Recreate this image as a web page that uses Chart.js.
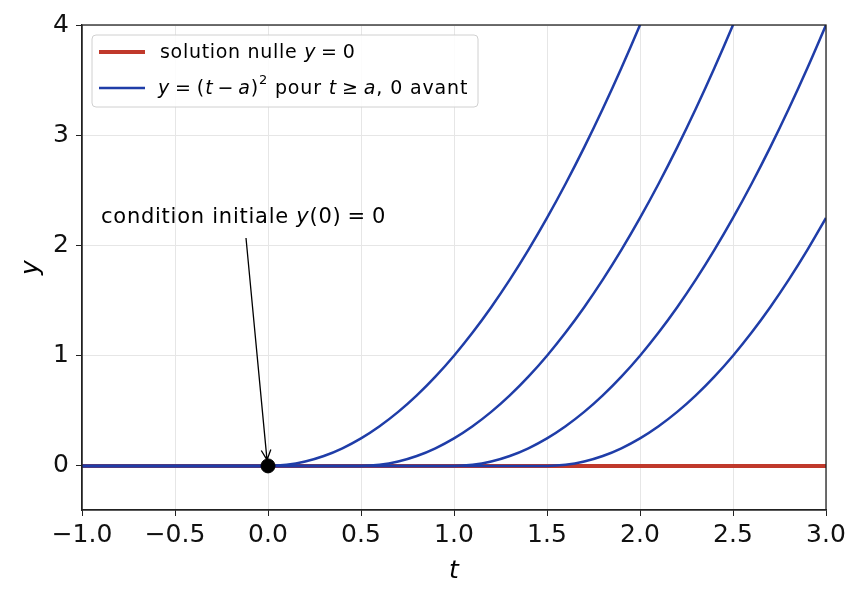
<!DOCTYPE html>
<html lang="fr">
<head>
    <meta charset="utf-8">
    <title>Solutions y = (t - a)^2</title>
    <script src="https://cdn.jsdelivr.net/npm/chart.js@4.4.0/dist/chart.umd.min.js"></script>
    <style>
        body { margin: 0; background: #fff; }
        #wrap { width: 862px; height: 602px; }
    </style>
</head>
<body>
<div id="wrap"><canvas id="courbes" width="862" height="602"></canvas></div>
<script>
    // abscisses communes, pas de 0.1
    const tValues = [-1.0, -0.9, -0.8, -0.7, -0.6, -0.5, -0.4, -0.3, -0.2, -0.1, 0.0,
        0.1, 0.2, 0.3, 0.4, 0.5, 0.6, 0.7, 0.8, 0.9, 1.0,
        1.1, 1.2, 1.3, 1.4, 1.5, 1.6, 1.7, 1.8, 1.9, 2.0,
        2.1, 2.2, 2.3, 2.4, 2.5, 2.6, 2.7, 2.8, 2.9, 3.0];

    // a = 0
    const yA0 = [0, 0, 0, 0, 0, 0, 0, 0, 0, 0, 0,
        0.01, 0.04, 0.09, 0.16, 0.25, 0.36, 0.49, 0.64, 0.81, 1.00,
        1.21, 1.44, 1.69, 1.96, 2.25, 2.56, 2.89, 3.24, 3.61, 4.00,
        4.41, 4.84, 5.29, 5.76, 6.25, 6.76, 7.29, 7.84, 8.41, 9.00];
    // a = 0.5
    const yA05 = [0, 0, 0, 0, 0, 0, 0, 0, 0, 0, 0,
        0, 0, 0, 0, 0, 0.01, 0.04, 0.09, 0.16, 0.25,
        0.36, 0.49, 0.64, 0.81, 1.00, 1.21, 1.44, 1.69, 1.96, 2.25,
        2.56, 2.89, 3.24, 3.61, 4.00, 4.41, 4.84, 5.29, 5.76, 6.25];
    // a = 1
    const yA1 = [0, 0, 0, 0, 0, 0, 0, 0, 0, 0, 0,
        0, 0, 0, 0, 0, 0, 0, 0, 0, 0,
        0.01, 0.04, 0.09, 0.16, 0.25, 0.36, 0.49, 0.64, 0.81, 1.00,
        1.21, 1.44, 1.69, 1.96, 2.25, 2.56, 2.89, 3.24, 3.61, 4.00];
    // a = 1.5
    const yA15 = [0, 0, 0, 0, 0, 0, 0, 0, 0, 0, 0,
        0, 0, 0, 0, 0, 0, 0, 0, 0, 0,
        0, 0, 0, 0, 0, 0.01, 0.04, 0.09, 0.16, 0.25,
        0.36, 0.49, 0.64, 0.81, 1.00, 1.21, 1.44, 1.69, 1.96, 2.25];

    const nullT = [-1.0, 3.0];
    const nullY = [0, 0];
    const initT = [0.0];
    const initY = [0];

    const xTicks = [-1.0, -0.5, 0.0, 0.5, 1.0, 1.5, 2.0, 2.5, 3.0];
    const yTicks = [0, 1, 2, 3, 4];

    const rouge = '#c0392b';
    const bleu = '#1f3da8';
    const police = '"DejaVu Sans", sans-serif';

    const toPoints = (xs, ys) => xs.map((x, i) => ({ x: x, y: ys[i] }));

    const courbes = [yA0, yA05, yA1, yA15].map(ys => ({
        data: toPoints(tValues, ys),
        borderColor: bleu,
        borderWidth: 2.5,
        pointRadius: 0,
        cubicInterpolationMode: 'monotone',
        order: 2
    }));

    // morceaux de texte, italique pour les maths
    function drawMixed(ctx, parts, x, y, size) {
        let cx = x;
        parts.forEach(p => {
            ctx.font = (p.it ? 'italic ' : '') + size + 'px ' + police;
            let dy = 0;
            if (p.sup) {
                ctx.font = Math.round(size * 0.7) + 'px ' + police;
                dy = -size * 0.42;
            }
            ctx.fillText(p.t, cx, y + dy);
            cx += ctx.measureText(p.t).width + (p.gap || 0);
        });
    }

    const decor = {
        id: 'decor',
        afterDraw(chart) {
            const ctx = chart.ctx;
            const a = chart.chartArea;
            const xs = chart.scales.x, ys = chart.scales.y;
            ctx.save();

            // cadre
            ctx.strokeStyle = '#222';
            ctx.lineWidth = 1.3;
            ctx.strokeRect(a.left, a.top, a.right - a.left, a.bottom - a.top);

            // annotation + fleche
            const px = xs.getPixelForValue(0), py = ys.getPixelForValue(0);
            ctx.fillStyle = '#000';
            ctx.textBaseline = 'alphabetic';
            ctx.letterSpacing = '0.75px';
            drawMixed(ctx, [
                { t: 'condition initiale ' }, { t: 'y', it: true }, { t: '(0)', gap: 6 },
                { t: '=', gap: 6 }, { t: '0' }
            ], 101, 223, 21);
            const sx = 246, sy = 238, ex = px - 1, ey = py - 6;
            ctx.strokeStyle = '#000';
            ctx.lineWidth = 1.3;
            ctx.beginPath();
            ctx.moveTo(sx, sy);
            ctx.lineTo(ex, ey);
            const ang = Math.atan2(ey - sy, ex - sx);
            ctx.moveTo(ex - 11 * Math.cos(ang - 0.45), ey - 11 * Math.sin(ang - 0.45));
            ctx.lineTo(ex, ey);
            ctx.lineTo(ex - 11 * Math.cos(ang + 0.45), ey - 11 * Math.sin(ang + 0.45));
            ctx.stroke();

            // legende
            const lx = a.left + 10, ly = a.top + 10, lw = 386, lh = 72;
            ctx.fillStyle = 'rgba(255,255,255,0.85)';
            ctx.strokeStyle = '#d0d0d0';
            ctx.lineWidth = 1;
            ctx.beginPath();
            ctx.roundRect(lx, ly, lw, lh, 4);
            ctx.fill();
            ctx.stroke();

            ctx.lineWidth = 4;
            ctx.strokeStyle = rouge;
            ctx.beginPath();
            ctx.moveTo(lx + 7, ly + 17); ctx.lineTo(lx + 53, ly + 17);
            ctx.stroke();
            ctx.lineWidth = 2.5;
            ctx.strokeStyle = bleu;
            ctx.beginPath();
            ctx.moveTo(lx + 7, ly + 53); ctx.lineTo(lx + 53, ly + 53);
            ctx.stroke();

            ctx.fillStyle = '#000';
            ctx.textBaseline = 'middle';
            ctx.letterSpacing = '0.7px';
            drawMixed(ctx, [{ t: 'solution nulle ' }, { t: 'y', it: true, gap: 5 },
                { t: '=', gap: 5 }, { t: '0' }], lx + 68, ly + 18, 19);
            ctx.letterSpacing = '0.85px';
            drawMixed(ctx, [
                { t: 'y', it: true, gap: 5 }, { t: '=', gap: 5 }, { t: '(' }, { t: 't', it: true, gap: 4 },
                { t: '\u2212', gap: 4 }, { t: 'a', it: true }, { t: ')' }, { t: '2', sup: true },
                { t: ' pour ' }, { t: 't', it: true, gap: 5 }, { t: '\u2265', gap: 5 },
                { t: 'a', it: true }, { t: ', 0 avant' }
            ], lx + 66, ly + 54, 19);
            ctx.letterSpacing = '0px';

            // titres des axes
            ctx.font = 'italic 25px ' + police;
            ctx.textAlign = 'center';
            ctx.textBaseline = 'middle';
            ctx.fillText('t', (a.left + a.right) / 2, 571);
            ctx.translate(31, (a.top + a.bottom) / 2);
            ctx.rotate(-Math.PI / 2);
            ctx.fillText('y', 0, 0);
            ctx.restore();
        }
    };

    const ctx = document.getElementById('courbes').getContext('2d');
    new Chart(ctx, {
        type: 'line',
        data: {
            datasets: [
                {
                    data: toPoints(initT, initY),
                    showLine: false,
                    pointRadius: 7,
                    pointBackgroundColor: '#000',
                    pointBorderColor: '#000',
                    order: 0
                },
                ...courbes,
                {
                    data: toPoints(nullT, nullY),
                    borderColor: rouge,
                    borderWidth: 4,
                    pointRadius: 0,
                    order: 3
                }
            ]
        },
        options: {
            responsive: false,
            animation: false,
            layout: { padding: { left: 0, right: 36, top: 25, bottom: 0 } },
            plugins: { legend: { display: false }, tooltip: { enabled: false } },
            scales: {
                x: {
                    type: 'linear',
                    min: -1, max: 3,
                    afterBuildTicks: s => { s.ticks = xTicks.map(v => ({ value: v })); },
                    afterFit: s => { s.height = 92; },
                    ticks: {
                        color: '#111',
                        font: { family: police, size: 25 },
                        padding: 4,
                        maxRotation: 0,
                        callback: v => v.toFixed(1).replace('-', '\u2212')
                    },
                    grid: { color: '#e6e6e6', tickColor: '#222', tickLength: 6, lineWidth: 1 },
                    border: { color: '#222', width: 1.3 }
                },
                y: {
                    type: 'linear',
                    min: -0.4, max: 4,
                    afterBuildTicks: s => { s.ticks = yTicks.map(v => ({ value: v })); },
                    afterFit: s => { s.width = 82; },
                    ticks: {
                        color: '#111',
                        font: { family: police, size: 25 },
                        padding: 7,
                        callback: v => String(v)
                    },
                    grid: { color: '#e6e6e6', tickColor: '#222', tickLength: 6, lineWidth: 1 },
                    border: { color: '#222', width: 1.3 }
                }
            }
        },
        plugins: [decor]
    });
</script>
</body>
</html>
